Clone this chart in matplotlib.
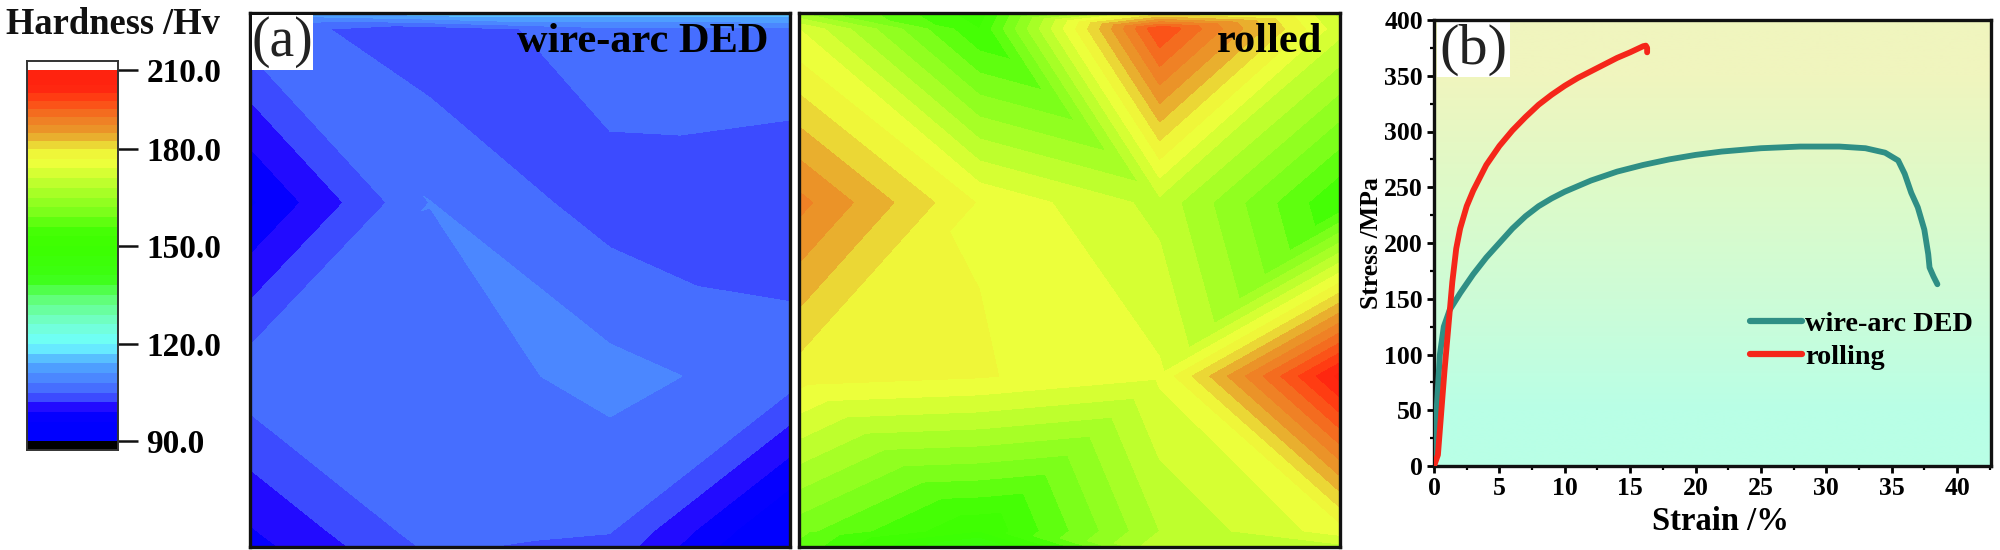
import numpy as np
import matplotlib
matplotlib.use("Agg")
import matplotlib.pyplot as plt
from matplotlib.colors import ListedColormap, BoundaryNorm
from matplotlib.tri import Triangulation
from matplotlib.patches import Rectangle
from matplotlib.ticker import MultipleLocator

plt.rcParams['font.family'] = ['Liberation Serif', 'DejaVu Serif']
plt.rcParams['font.weight'] = 'bold'
plt.rcParams['axes.labelweight'] = 'bold'

# ---------- data ----------
grid_x = [0, 1/3, 2/3, 1]
grid_y = [0, 0.03, 0.355, 0.68, 0.97, 1]      # from the top of the map
hard_wire = [
    [113, 116, 116, 116],
    [106.6, 103, 107, 107.2],
    [95.5, 108.05, 103.6, 103],
    [107, 106.4, 109, 106.5],
    [98.7, 106.4, 105.2, 92],
    [97.8, 105.5, 104, 90.5],
]
hard_rolled = [
    [165, 151, 178, 170],
    [174, 153, 198, 172],
    [190, 176.7, 170, 153],
    [178.5, 177.3, 174.5, 205],
    [160, 150, 168, 175.5],
    [158, 142, 170, 170],
]
strain_wire = [0, .2, .45, .75, 1.2, 2, 3, 4, 5, 6, 7, 8, 9, 10, 12, 14, 16, 18, 20, 22, 25, 28,
               31, 33, 34.5, 35.5, 36, 36.5, 37, 37.5, 37.8, 37.9, 38.2, 38.5]
stress_wire = [0, 50, 100, 125, 140, 155, 172, 187, 200, 213, 224, 233, 240, 246, 256, 264, 270, 275, 279, 282, 285, 286.5,
               286.5, 285, 281, 274, 262, 245, 232, 212, 190, 178, 170, 163]
strain_roll = [0, .3, .5, .8, 1.1, 1.4, 1.7, 2, 2.5, 3, 4, 5, 6, 7, 8, 9, 10, 11, 12, 13, 14, 15, 16, 16.2, 16.3, 16.3]
stress_roll = [0, 10, 40, 85, 125, 165, 195, 213, 233, 247, 270, 287, 301, 313, 324, 333, 341, 348, 354, 360, 366, 371, 376.5, 377, 375, 371]
hard_ticks = [90, 120, 150, 180, 210]
hard_tick_px = [441, 344, 246, 149, 69.5]
hard_stops = [90, 97, 100, 103.5, 106.5, 109.5, 114, 120, 126, 133, 140, 150, 155, 160, 165, 172, 176, 180, 183, 187, 192, 198, 203, 210]
hard_rgb = [(0,0,255),(0,0,255),(30,0,255),(60,75,255),(70,110,255),(75,135,255),(80,170,255),(110,255,255),
            (115,255,210),(100,255,130),(60,255,20),(60,255,0),(70,255,5),(120,255,25),(155,255,35),(210,255,50),(240,255,60),
            (238,240,55),(232,190,50),(235,150,40),(240,120,35),(255,70,20),(255,35,15),(255,35,15)]
diagonals_wire = ["\\\\/", "\\\\/", "/\\\\", "\\\\/", "\\\\/"]
diagonals_rolled = ["\\\\/", "\\\\/", "/\\/", "\\/\\", "\\\\\\"]

# ---------- helpers ----------
W, H = 2000, 550
fig = plt.figure(figsize=(W/100, H/100), dpi=100, facecolor='white')
def axpx(l, t, r, b, **kw):
    return fig.add_axes([l/W, 1-b/H, (r-l)/W, (b-t)/H], **kw)

levels = np.arange(90, 213, 3)
mids = (levels[:-1] + levels[1:]) / 2
rgb = np.array(hard_rgb) / 255
band_cols = np.column_stack([np.interp(mids, hard_stops, rgb[:, i]) for i in range(3)])
cmap = ListedColormap(band_cols)
norm = BoundaryNorm(levels, cmap.N)

nx, ny = len(grid_x), len(grid_y)
X, Y = np.meshgrid(grid_x, grid_y)
def make_tri(diagonals):
    tris = []
    for j, row in enumerate(diagonals):
        for i, d in enumerate(row):
            a, b, c, e = j*nx+i, j*nx+i+1, (j+1)*nx+i, (j+1)*nx+i+1
            if d == "\\":
                tris += [[a, b, e], [a, e, c]]
            else:
                tris += [[a, b, c], [b, e, c]]
    return Triangulation(X.ravel(), Y.ravel(), tris)

def hard_map(box, values, diagonals, label, lab_right):
    ax = axpx(*box)
    ax.tricontourf(make_tri(diagonals), np.array(values).ravel(), levels=levels, cmap=cmap, norm=norm)
    ax.set_xlim(0, 1); ax.set_ylim(1, 0)
    ax.set_xticks([]); ax.set_yticks([])
    for s in ax.spines.values():
        s.set_linewidth(2.4); s.set_color('#111111')
    ax.text(lab_right, 0.946, label, transform=ax.transAxes, ha='right', va='center',
            fontsize=30.5, color='black')
    return ax

# ---------- colour bar ----------
def forward(v):
    v = np.asarray(v, float)
    out = np.interp(v, hard_ticks, hard_tick_px)
    out = np.where(v < 90, 441 + (90 - v)*3.23, out)
    out = np.where(v > 210, 69.5 - (v - 210)*2.65, out)
    return -out
def inverse(y):
    p = -np.asarray(y, float)
    out = np.interp(p, hard_tick_px[::-1], hard_ticks[::-1])
    out = np.where(p > 441, 90 - (p - 441)/3.23, out)
    out = np.where(p < 69.5, 210 + (69.5 - p)/2.65, out)
    return out
cax = axpx(27, 61, 118, 450)
cax.set_yscale('function', functions=(forward, inverse))
cax.set_xlim(0, 1)
cax.set_ylim(90 - 9/3.23, 210 + 8.5/2.65)
cax.pcolormesh([0, 1], levels, mids[:, None], cmap=cmap, norm=norm, shading='flat')
cax.axhspan(90 - 9/3.23, 90, color='black', lw=0)
cax.set_xticks([])
cax.yaxis.tick_right()
cax.set_yticks(hard_ticks)
cax.yaxis.set_minor_locator(plt.NullLocator())
cax.set_yticklabels([f"{t:.1f}" for t in hard_ticks], fontsize=24)
cax.tick_params(axis='y', length=14.4, width=1.8, pad=6, color='#111111')
for s in cax.spines.values():
    s.set_linewidth(1.4); s.set_color('#333333')
fig.text(6/W, 1-24/H, "Hardness /Hv", fontsize=26.3, ha='left', va='center', color='#111111')

# ---------- hardness maps ----------
a1 = hard_map((250, 13, 790, 547), hard_wire, diagonals_wire, "wire-arc DED", 0.96)
a2 = hard_map((799, 13, 1340, 547), hard_rolled, diagonals_rolled, "rolled", 0.967)
a1.add_patch(Rectangle((0.004, 0.893), 0.113, 0.104, transform=a1.transAxes, fc='white', ec='none', zorder=5))
a1.text(0.06, 0.945, "(a)", transform=a1.transAxes, ha='center', va='center', fontsize=40,
        fontweight='normal', color='#222222', zorder=6)

# ---------- stress-strain ----------
ax = axpx(1434, 20, 1991, 466)
ax.imshow(np.array([[(240,245,190)], [(222,250,200)], [(205,252,215)], [(185,255,230)]], dtype=float)/255,
          extent=(0, 1, 0, 1), transform=ax.transAxes, aspect='auto', interpolation='bilinear', zorder=0)
ax.plot(strain_wire, stress_wire, color='#2f8f85', lw=4.2, solid_capstyle='round', label='wire-arc DED', zorder=3)
ax.plot(strain_roll, stress_roll, color='#f5261a', lw=4.2, solid_capstyle='round', label='rolling', zorder=4)
ax.set_xlim(0, 42.6); ax.set_ylim(0, 400)
ax.xaxis.set_major_locator(MultipleLocator(5)); ax.xaxis.set_minor_locator(MultipleLocator(2.5))
ax.yaxis.set_major_locator(MultipleLocator(50)); ax.yaxis.set_minor_locator(MultipleLocator(25))
ax.tick_params(which='major', length=5, width=2, labelsize=18.5, pad=3)
ax.tick_params(which='minor', length=3, width=1.6)
for s in ax.spines.values():
    s.set_linewidth(2.4); s.set_color('#111111')
ax.set_xlabel("Strain /%", fontsize=23.5, labelpad=4, x=0.515)
ax.set_ylabel("Stress /MPa", fontsize=18.5, labelpad=1)
ax.add_patch(Rectangle((0.006, 0.872), 0.131, 0.123, transform=ax.transAxes, fc='white', ec='none', zorder=2))
ax.text(0.071, 0.933, "(b)", transform=ax.transAxes, ha='center', va='center', fontsize=42,
        fontweight='normal', color='#222222', zorder=6)
leg = ax.legend(loc='lower left', bbox_to_anchor=(0.567, 0.215), frameon=False, fontsize=20.3,
                handlelength=1.85, handletextpad=0.12, labelspacing=0.26, borderpad=0, borderaxespad=0)
for h in leg.get_lines():
    h.set_linewidth(4.5)

fig.savefig("out.png", dpi=100, facecolor='white')
